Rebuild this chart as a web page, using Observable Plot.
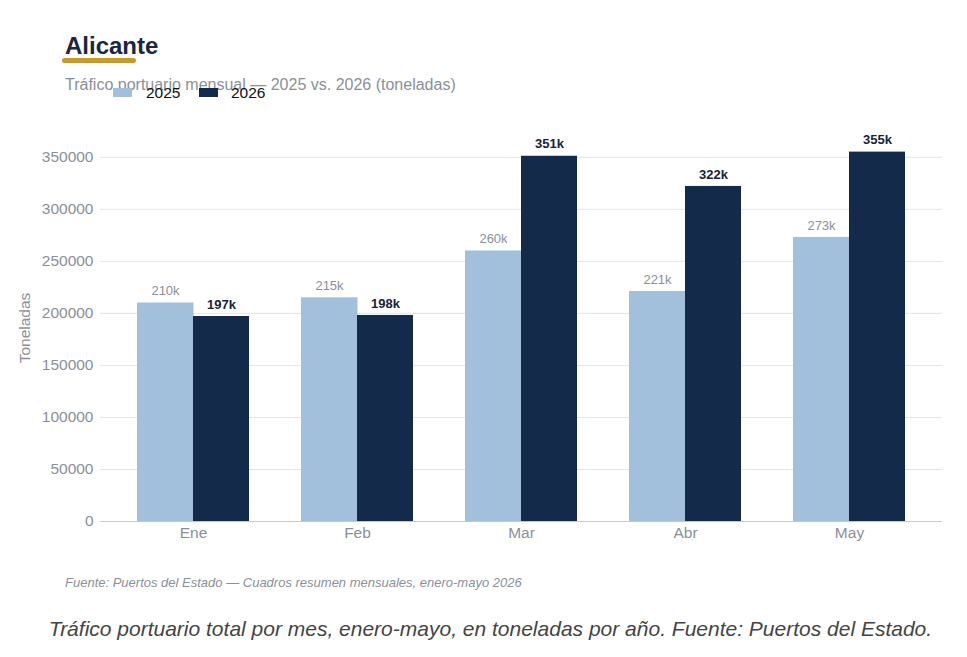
<!DOCTYPE html>
<html>
<head>
<meta charset="utf-8">
<script src="https://cdn.jsdelivr.net/npm/d3@7"></script>
<script src="https://cdn.jsdelivr.net/npm/@observablehq/plot@0.6"></script>
<style>
  html, body { margin: 0; padding: 0; background: #fff; }
  body { font-family: "Liberation Sans", Arial, Helvetica, sans-serif; }
  #wrap { position: relative; width: 967px; height: 657px; overflow: hidden; }
  .abs { position: absolute; white-space: nowrap; }
  #title { left: 65px; top: 34px; font-size: 24px; line-height: 24px; font-weight: bold; color: #1a2640; }
  #uline { left: 62px; top: 58px; width: 74px; height: 5px; border-radius: 3px; background: #c9992c; }
  #subtitle { left: 65px; top: 77px; font-size: 16px; line-height: 16px; color: #8a8f99; }
  .sw { position: absolute; width: 19px; height: 9px; }
  .lt { position: absolute; font-size: 15.5px; line-height: 16px; color: #111; }
  #ylabel { left: 25px; top: 328px; font-size: 15.5px; color: #8a8f99; transform: translate(-50%, -50%) rotate(-90deg); }
  #chart { position: absolute; left: 0; top: 110px; }
  #footer { left: 65px; top: 576px; font-size: 13px; line-height: 14px; font-style: italic; color: #8a8f99; }
  #caption { left: 0; width: 981px; text-align: center; top: 618px; font-size: 21px; line-height: 22px; font-style: italic; color: #444; }
</style>
</head>
<body>
<div id="wrap">
  <div class="abs" id="title">Alicante</div>
  <div class="abs" id="uline"></div>
  <div class="abs" id="subtitle">Tráfico portuario mensual — 2025 vs. 2026 (toneladas)</div>
  <div id="legend"></div>
  <div class="abs" id="ylabel">Toneladas</div>
  <div id="chart"></div>
  <div class="abs" id="footer">Fuente: Puertos del Estado — Cuadros resumen mensuales, enero-mayo 2026</div>
  <div class="abs" id="caption">Tráfico portuario total por mes, enero-mayo, en toneladas por año. Fuente: Puertos del Estado.</div>
</div>
<script>
// ---- data ----
const months = ["Ene", "Feb", "Mar", "Abr", "May"];
const years = ["2025", "2026"];
const tons2025 = [210000, 215000, 260000, 221000, 273000];
const tons2026 = [197000, 198000, 351000, 322000, 355000];
const yTicks = [0, 50000, 100000, 150000, 200000, 250000, 300000, 350000];

const colors = { "2025": "#a2c0db", "2026": "#142a4a" };

const rows2025 = months.map((m, i) => ({ month: m, year: years[0], value: tons2025[i] }));
const rows2026 = months.map((m, i) => ({ month: m, year: years[1], value: tons2026[i] }));

// ---- legend ----
const legend = document.getElementById("legend");
const legendPos = [{ sx: 113, tx: 146 }, { sx: 199, tx: 231 }];
years.forEach((y, i) => {
  const sw = document.createElement("div");
  sw.className = "sw";
  sw.style.left = legendPos[i].sx + "px";
  sw.style.top = "88px";
  sw.style.background = colors[y];
  legend.appendChild(sw);
  const t = document.createElement("div");
  t.className = "lt";
  t.style.left = legendPos[i].tx + "px";
  t.style.top = "85px";
  t.textContent = y;
  legend.appendChild(t);
});

// ---- chart ----
const W = 967, H = 450, ML = 100, MR = 25, MT = 26, MB = 39;
const padIn = 0.317, padOut = 0.2256;
const step = (W - ML - MR) / (months.length - padIn + 2 * padOut);
const bw = step * (1 - padIn);
const half = bw / 2;
const fmtK = d => Math.round(d.value / 1000) + "k";

const chart = Plot.plot({
  width: W,
  height: H,
  marginLeft: ML,
  marginRight: MR,
  marginTop: MT,
  marginBottom: MB,
  style: { fontFamily: "'Liberation Sans', Arial, Helvetica, sans-serif", background: "transparent" },
  x: { type: "band", domain: months, paddingInner: padIn, paddingOuter: padOut, round: false, label: null },
  y: { domain: [0, 370000], label: null },
  marks: [
    Plot.ruleY(yTicks, { stroke: "#e1e4e8", strokeWidth: 1 }),
    Plot.barY(rows2025, { x: "month", y: "value", fill: colors["2025"], insetRight: half - 0.5 }),
    Plot.barY(rows2026, { x: "month", y: "value", fill: colors["2026"], insetLeft: half }),
    Plot.ruleY([0], { stroke: "#c4c7cc", strokeWidth: 1.2 }),
    Plot.text(rows2025, { x: "month", y: "value", text: fmtK, dx: -half / 2, dy: -12, fill: "#8a8f99", fontSize: 13 }),
    Plot.text(rows2026, { x: "month", y: "value", text: fmtK, dx: half / 2, dy: -12, fill: "#1a2238", fontSize: 13, fontWeight: "bold" }),
    Plot.axisY({ ticks: yTicks, tickFormat: d => String(d), tickSize: 0, tickPadding: 7, fontSize: 15.5, fill: "#8a8f99", label: null }),
    Plot.axisX({ tickSize: 0, tickPadding: 5, fontSize: 15.5, fill: "#8a8f99", label: null })
  ]
});
document.getElementById("chart").appendChild(chart);
</script>
</body>
</html>
